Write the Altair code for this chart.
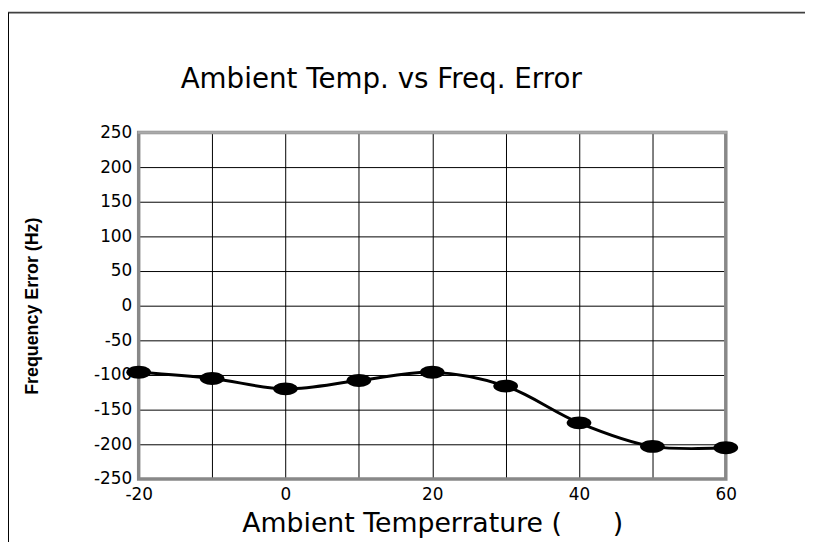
import altair as alt
import pandas as pd

temps = [-20, -10, 0, 10, 20, 30, 40, 50, 60]
errors = [-96, -105, -120, -108, -96, -116, -169, -203, -205]

title_text = "Ambient Temp. vs Freq. Error"
x_title = "Ambient Temperrature (\u00a0\u00a0\u00a0\u00a0\u00a0\u00a0)"
y_title = "Frequency Error (Hz)"

df = pd.DataFrame({"temp": temps, "err": errors})
one = pd.DataFrame({"k": [0]})

FONT = "DejaVu Sans"
NUM = "datum.value < 0 ? '-' + abs(datum.value) : '' + datum.value"

x_enc = alt.X(
    "temp:Q",
    scale=alt.Scale(domain=[-20, 60], nice=False, zero=False),
    axis=alt.Axis(
        values=list(range(-20, 61, 10)),
        labelExpr="datum.value % 20 == 0 ? (" + NUM + ") : ''",
        labelOverlap=False, labelFlush=False,
        grid=True, gridColor="#000000", gridWidth=1, gridOpacity=1,
        domain=False, ticks=False,
        labelFont=FONT, labelFontSize=17, labelColor="#000000", labelPadding=8,
        title=x_title, titleFont=FONT, titleFontSize=27, titleFontWeight="normal",
        titleColor="#000000", titleY=53, titleBaseline="alphabetic",
    ),
)
y_enc = alt.Y(
    "err:Q",
    scale=alt.Scale(domain=[-250, 250], nice=False, zero=False),
    axis=alt.Axis(
        values=list(range(-250, 251, 50)),
        labelExpr=NUM,
        labelOverlap=False, labelFlush=False,
        grid=True, gridColor="#000000", gridWidth=1, gridOpacity=1,
        domain=False, ticks=False,
        labelFont=FONT, labelFontSize=17, labelColor="#000000", labelPadding=7,
        title=y_title, titleFont="Liberation Sans", titleFontSize=18,
        titleFontWeight="bold", titleColor="#000000",
        titleX=-107, titleY=175, titleAngle=270,
        titleAlign="center", titleBaseline="middle",
    ),
)

deco = alt.Chart(one)

frame_top = deco.mark_rule(color="#404040", strokeWidth=2).encode(
    x=alt.value(-132), x2=alt.value(700), y=alt.value(-121)
)
frame_left = deco.mark_rule(color="#000000", strokeWidth=2).encode(
    x=alt.value(-132), y=alt.value(-121), y2=alt.value(430)
)
title_mark = deco.mark_text(
    text=title_text, font=FONT, fontSize=28, fontWeight="normal",
    color="#000000", align="center", baseline="alphabetic",
).encode(x=alt.value(245), y=alt.value(-45))

border = deco.mark_rect(
    fillOpacity=0, stroke="#888888", strokeWidth=3.5
).encode(x=alt.value(0), x2=alt.value(593), y=alt.value(0), y2=alt.value(350))

border_top = deco.mark_rule(color="#aaaaaa", strokeWidth=2.5).encode(
    x=alt.value(-1), x2=alt.value(594), y=alt.value(0)
)

base = alt.Chart(df)
line = base.mark_line(
    color="#000000", strokeWidth=3, interpolate="catmull-rom"
).encode(x=x_enc, y=y_enc)

ellipse = "M-1,0A1,0.52 0 1,1 1,0A1,0.52 0 1,1 -1,0Z"
points = base.mark_point(
    shape=ellipse, size=625, filled=True, color="#000000", opacity=1
).encode(x=x_enc, y=y_enc)

chart = (
    alt.layer(frame_top, frame_left, title_mark, border, border_top, line, points)
    .properties(
        width=593,
        height=350,
        autosize=alt.AutoSizeParams(type="none"),
        padding={"left": 132, "top": 123, "right": 80, "bottom": 61},
    )
    .configure_view(stroke=None)
    .configure_axis(labelOverlap=False)
    .configure(background="#ffffff")
)

chart.save("out.html", embed_options={"renderer": "svg", "actions": False})
